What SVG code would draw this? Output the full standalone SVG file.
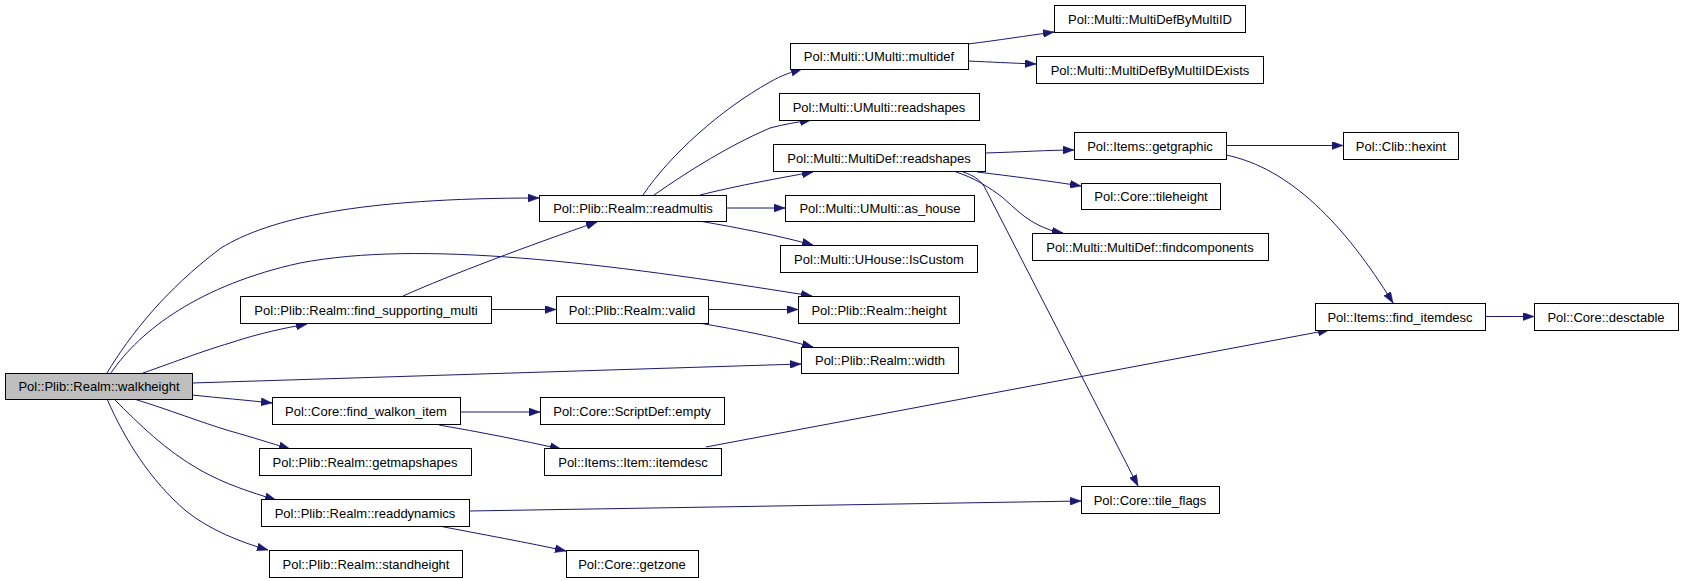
<svg xmlns="http://www.w3.org/2000/svg" width="1683" height="581" viewBox="0 0 1683 581">
<style>
.n rect{fill:#fff;stroke:#000;stroke-width:1}
.n text{font-family:"Liberation Sans",Arial,sans-serif;font-size:13px;fill:#000;text-anchor:middle}
.e path{fill:none;stroke:#191970;stroke-width:1;marker-end:url(#a)}
</style>
<defs>
<marker id="a" markerUnits="userSpaceOnUse" markerWidth="11" markerHeight="8" refX="11" refY="4" orient="auto">
<path d="M0,0 L11,4 L0,8 z" fill="#191970" stroke="#191970" stroke-width="0.5"/>
</marker>
</defs>
<rect width="1683" height="581" fill="#fff"/>
<g class="e" id="edges">
<path d="M107,373 C130,335 165,290 221,248 C270,218 360,198 539,198"/>
<path d="M111,373 C140,330 200,285 300,263 C420,240 600,262 812,296"/>
<path d="M143,373 C180,360 200,352 230,343 C260,333 285,328 307,324"/>
<path d="M192,383 L801,364"/>
<path d="M192,395 C220,398 245,400 272,403"/>
<path d="M134,399 C170,410 200,422 230,431 C255,438 270,443 290,449"/>
<path d="M114,399 C140,425 165,450 200,470 C225,484 250,492 276,500"/>
<path d="M107,399 C125,440 150,480 186,511 C210,530 240,542 268,550"/>
<path d="M403,296 C450,275 530,245 597,222"/>
<path d="M491,309.5 L556,309.5"/>
<path d="M460,412 L540,412"/>
<path d="M439,425 C480,432 520,440 561,449"/>
<path d="M469,511 L1081,501"/>
<path d="M439,526 C480,534 530,543 566,551"/>
<path d="M708,309.5 L798,309.5"/>
<path d="M699,323 C740,330 780,338 813,347"/>
<path d="M643,195 C670,155 720,110 770,82 C782,75 792,72 802,69"/>
<path d="M654,195 C690,170 730,145 770,128 C785,124 798,122 811,120"/>
<path d="M700,195 C740,185 780,178 813,172"/>
<path d="M726,208 L785,208"/>
<path d="M699,221 C740,228 780,236 813,245"/>
<path d="M968,44 C1000,40 1025,36 1054,32"/>
<path d="M968,61 C990,62 1010,63 1036,64"/>
<path d="M985,153 C1020,152 1050,150 1074,150"/>
<path d="M977,172 C1010,176 1050,181 1081,186"/>
<path d="M956,172 C975,178 990,188 1002,197 C1015,208 1025,220 1045,228 C1052,231 1057,232 1063,233"/>
<path d="M963,172 C972,175 978,178 984,186 L1138,486"/>
<path d="M1226,145.5 L1343,145.5"/>
<path d="M1226,155 C1290,168 1345,225 1393,303"/>
<path d="M706,447 L1329,330"/>
<path d="M1485,316.5 L1534,316.5"/>
</g>
<g id="walkheight" class="n"><rect x="5.5" y="373.5" width="187" height="26" style="fill:#bfbfbf"/><text x="99" y="391">Pol::Plib::Realm::walkheight</text></g>
<g id="find_supporting_multi" class="n"><rect x="240.5" y="296.5" width="251" height="27"/><text x="366" y="314.5">Pol::Plib::Realm::find_supporting_multi</text></g>
<g id="find_walkon_item" class="n"><rect x="272.5" y="397.5" width="188" height="27"/><text x="366" y="415.5">Pol::Core::find_walkon_item</text></g>
<g id="getmapshapes" class="n"><rect x="259.5" y="448.5" width="212" height="27"/><text x="365" y="466.5">Pol::Plib::Realm::getmapshapes</text></g>
<g id="readdynamics" class="n"><rect x="261.5" y="499.5" width="208" height="27"/><text x="365" y="517.5">Pol::Plib::Realm::readdynamics</text></g>
<g id="standheight" class="n"><rect x="269.5" y="550.5" width="193" height="27"/><text x="366" y="568.5">Pol::Plib::Realm::standheight</text></g>
<g id="readmultis" class="n"><rect x="539.5" y="195.5" width="187" height="26"/><text x="633" y="213">Pol::Plib::Realm::readmultis</text></g>
<g id="multidef" class="n"><rect x="790.5" y="43.5" width="178" height="26"/><text x="879" y="61">Pol::Multi::UMulti::multidef</text></g>
<g id="umulti_readshapes" class="n"><rect x="779.5" y="93.5" width="200" height="27"/><text x="879" y="111.5">Pol::Multi::UMulti::readshapes</text></g>
<g id="multidef_readshapes" class="n"><rect x="773.5" y="144.5" width="212" height="27"/><text x="879" y="162.5">Pol::Multi::MultiDef::readshapes</text></g>
<g id="as_house" class="n"><rect x="785.5" y="195.5" width="189" height="26"/><text x="880" y="213">Pol::Multi::UMulti::as_house</text></g>
<g id="iscustom" class="n"><rect x="780.5" y="245.5" width="197" height="27"/><text x="879" y="263.5">Pol::Multi::UHouse::IsCustom</text></g>
<g id="valid" class="n"><rect x="556.5" y="296.5" width="152" height="27"/><text x="632" y="314.5">Pol::Plib::Realm::valid</text></g>
<g id="height" class="n"><rect x="798.5" y="296.5" width="161" height="27"/><text x="879" y="314.5">Pol::Plib::Realm::height</text></g>
<g id="width" class="n"><rect x="801.5" y="347.5" width="157" height="26"/><text x="880" y="365">Pol::Plib::Realm::width</text></g>
<g id="scriptdef_empty" class="n"><rect x="540.5" y="397.5" width="184" height="27"/><text x="632" y="415.5">Pol::Core::ScriptDef::empty</text></g>
<g id="itemdesc" class="n"><rect x="544.5" y="448.5" width="177" height="27"/><text x="633" y="466.5">Pol::Items::Item::itemdesc</text></g>
<g id="getzone" class="n"><rect x="566.5" y="550.5" width="132" height="27"/><text x="632" y="568.5">Pol::Core::getzone</text></g>
<g id="multidefbymultiid" class="n"><rect x="1054.5" y="5.5" width="191" height="27"/><text x="1150" y="23.5">Pol::Multi::MultiDefByMultiID</text></g>
<g id="multidefbymultiidexists" class="n"><rect x="1036.5" y="56.5" width="227" height="27"/><text x="1150" y="74.5">Pol::Multi::MultiDefByMultiIDExists</text></g>
<g id="getgraphic" class="n"><rect x="1074.5" y="132.5" width="152" height="27"/><text x="1150" y="150.5">Pol::Items::getgraphic</text></g>
<g id="hexint" class="n"><rect x="1343.5" y="132.5" width="115" height="27"/><text x="1401" y="150.5">Pol::Clib::hexint</text></g>
<g id="tileheight" class="n"><rect x="1081.5" y="183.5" width="139" height="26"/><text x="1151" y="201">Pol::Core::tileheight</text></g>
<g id="findcomponents" class="n"><rect x="1032.5" y="233.5" width="236" height="27"/><text x="1150" y="251.5">Pol::Multi::MultiDef::findcomponents</text></g>
<g id="find_itemdesc" class="n"><rect x="1315.5" y="303.5" width="170" height="27"/><text x="1400" y="321.5">Pol::Items::find_itemdesc</text></g>
<g id="desctable" class="n"><rect x="1534.5" y="303.5" width="144" height="27"/><text x="1606" y="321.5">Pol::Core::desctable</text></g>
<g id="tile_flags" class="n"><rect x="1081.5" y="486.5" width="138" height="27"/><text x="1150" y="504.5">Pol::Core::tile_flags</text></g>
</svg>
